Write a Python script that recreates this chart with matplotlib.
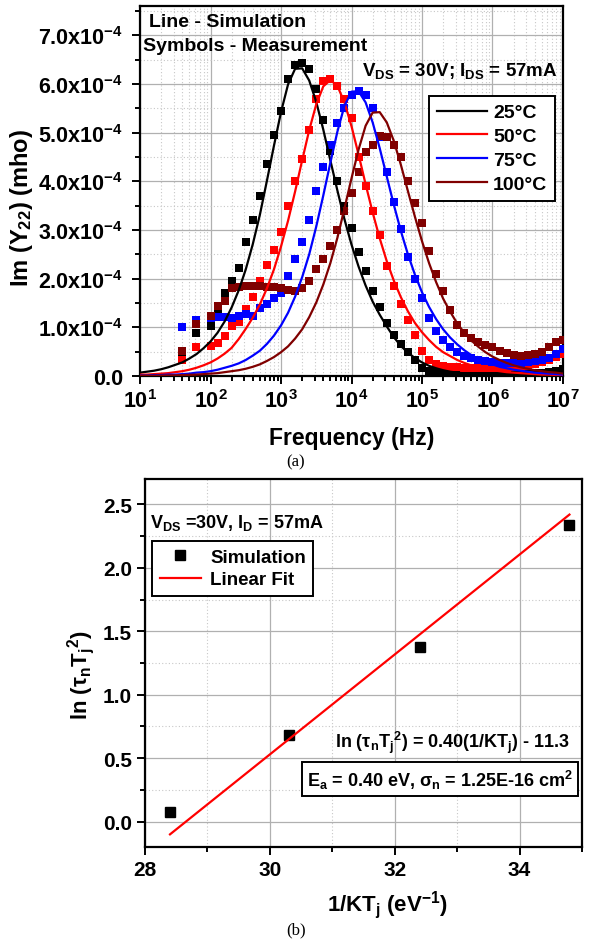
import matplotlib
matplotlib.use("Agg")
import matplotlib.pyplot as plt
import numpy as np
from matplotlib.ticker import MultipleLocator, LogLocator, NullFormatter, FormatStrFormatter

plt.rcParams["font.family"] = ["Liberation Sans", "DejaVu Sans"]
plt.rcParams["font.weight"] = "bold"
plt.rcParams["axes.labelweight"] = "bold"
plt.rcParams["mathtext.fontset"] = "custom"
plt.rcParams["mathtext.rm"] = "Liberation Sans:bold"
plt.rcParams["mathtext.it"] = "Liberation Sans:bold"
plt.rcParams["mathtext.bf"] = "Liberation Sans:bold"

# ── (a) Im(Y22) vs frequency, values in units of 1e-4 mho ──────────────────────
temps = ["25°C", "50°C", "75°C", "100°C"]
colors = ["#000000", "#ff0000", "#0000ff", "#800000"]

# log10(frequency) of the simulation curves
sim_logf = [1.0, 1.1, 1.2, 1.3, 1.4, 1.5, 1.6, 1.7, 1.8, 1.9,
            2.0, 2.1, 2.2, 2.3, 2.4, 2.5, 2.6, 2.7, 2.8, 2.9,
            3.0, 3.1, 3.2, 3.3, 3.4, 3.5, 3.6, 3.7, 3.8, 3.9,
            4.0, 4.1, 4.2, 4.3, 4.4, 4.5, 4.6, 4.7, 4.8, 4.9,
            5.0, 5.1, 5.2, 5.3, 5.4, 5.5, 5.6, 5.7, 5.8, 5.9,
            6.0, 6.1, 6.2, 6.3, 6.4, 6.5, 6.6, 6.7, 6.8, 6.9, 7.0]

sim_25 = [0.07, 0.09, 0.11, 0.14, 0.18, 0.23, 0.28, 0.36, 0.45, 0.57,
          0.71, 0.89, 1.12, 1.41, 1.76, 2.19, 2.71, 3.31, 4.01, 4.73,
          5.42, 5.99, 6.31, 6.32, 6.07, 5.63, 5.06, 4.43, 3.81, 3.22,
          2.70, 2.25, 1.86, 1.53, 1.26, 1.02, 0.80, 0.62, 0.48, 0.37,
          0.28, 0.21, 0.16, 0.12, 0.09, 0.07, 0.055, 0.045, 0.035, 0.03,
          0.025, 0.02, 0.02, 0.015, 0.015, 0.01, 0.01, 0.01, 0.01, 0.01, 0.01]
sim_50 = [0.03, 0.03, 0.04, 0.05, 0.06, 0.08, 0.10, 0.13, 0.17, 0.22,
          0.28, 0.36, 0.46, 0.58, 0.76, 0.97, 1.20, 1.47, 1.80, 2.19,
          2.66, 3.19, 3.79, 4.43, 5.05, 5.58, 5.95, 6.08, 5.96, 5.62,
          5.13, 4.55, 3.94, 3.36, 2.83, 2.36, 1.96, 1.62, 1.33, 1.09,
          0.90, 0.74, 0.60, 0.49, 0.41, 0.33, 0.27, 0.22, 0.18, 0.15,
          0.12, 0.10, 0.08, 0.07, 0.06, 0.05, 0.04, 0.03, 0.03, 0.02, 0.02]
sim_75 = [0.01, 0.01, 0.02, 0.02, 0.03, 0.03, 0.04, 0.05, 0.07, 0.08,
          0.10, 0.13, 0.17, 0.21, 0.26, 0.33, 0.42, 0.52, 0.66, 0.83,
          1.04, 1.30, 1.63, 2.03, 2.50, 3.07, 3.71, 4.38, 5.02, 5.55,
          5.84, 5.85, 5.62, 5.21, 4.68, 4.10, 3.52, 2.98, 2.50, 2.08,
          1.72, 1.42, 1.17, 0.96, 0.79, 0.65, 0.53, 0.43, 0.35, 0.29,
          0.24, 0.19, 0.16, 0.13, 0.11, 0.09, 0.07, 0.06, 0.05, 0.04, 0.03]
sim_100 = [0.005, 0.006, 0.008, 0.01, 0.012, 0.015, 0.02, 0.025, 0.03, 0.04,
           0.05, 0.06, 0.08, 0.10, 0.12, 0.15, 0.19, 0.24, 0.31, 0.39,
           0.49, 0.61, 0.77, 0.96, 1.21, 1.51, 1.88, 2.32, 2.84, 3.44,
           4.06, 4.65, 5.14, 5.41, 5.42, 5.21, 4.83, 4.34, 3.80, 3.27,
           2.77, 2.32, 1.93, 1.59, 1.32, 1.08, 0.89, 0.73, 0.60, 0.49,
           0.40, 0.33, 0.27, 0.22, 0.18, 0.15, 0.12, 0.10, 0.08, 0.07, 0.05]

# log10(frequency) of the measured points
meas_logf = [1.6, 1.8,
             2.0, 2.1, 2.2, 2.3, 2.4, 2.5, 2.6, 2.7, 2.8, 2.9,
             3.0, 3.1, 3.2, 3.3, 3.4, 3.5, 3.6, 3.7, 3.8, 3.9,
             4.0, 4.1, 4.2, 4.3, 4.4, 4.5, 4.6, 4.7, 4.8, 4.9,
             5.0, 5.1, 5.2, 5.3, 5.4, 5.5, 5.6, 5.7, 5.8, 5.9,
             6.0, 6.1, 6.2, 6.3, 6.4, 6.5, 6.6, 6.7, 6.8, 6.9, 7.0]

meas_25 = [0.40, 0.88,
           1.03, 1.35, 1.70, 1.95, 2.22, 2.75, 3.20, 3.70, 4.35, 4.95,
           5.45, 6.10, 6.38, 6.42, 6.30, 5.90, 5.25, 4.63, 4.00, 3.50,
           3.05, 2.55, 2.15, 1.75, 1.42, 1.08, 0.84, 0.66, 0.50, 0.33,
           0.16, 0.10, 0.08, 0.07, 0.06, 0.06, 0.05, 0.05, 0.05, 0.05,
           0.05, 0.05, 0.05, 0.05, 0.05, 0.05, 0.06, 0.07, 0.09, 0.11, 0.14]
meas_50 = [0.33, 0.60,
           0.62, 0.68, 0.82, 1.03, 1.10, 1.38, 1.62, 1.95, 2.28, 2.58,
           2.95, 3.50, 4.00, 4.45, 5.05, 5.70, 6.05, 6.10, 5.95, 5.70,
           5.30, 4.50, 3.90, 3.40, 2.90, 2.25, 1.85, 1.48, 1.15, 0.85,
           0.52, 0.32, 0.25, 0.21, 0.19, 0.18, 0.17, 0.16, 0.16, 0.16,
           0.16, 0.17, 0.17, 0.18, 0.19, 0.21, 0.24, 0.28, 0.33, 0.39, 0.45]
meas_75 = [1.00, 1.15,
           1.20, 1.22, 1.22, 1.20, 1.23, 1.28, 1.24, 1.40, 1.48, 1.60,
           1.70, 2.06, 2.40, 2.75, 3.20, 3.80, 4.30, 4.75, 5.20, 5.50,
           5.78, 5.86, 5.78, 5.50, 4.90, 4.20, 3.58, 3.02, 2.45, 2.00,
           1.60, 1.20, 0.92, 0.74, 0.60, 0.50, 0.42, 0.37, 0.32, 0.30,
           0.28, 0.27, 0.27, 0.27, 0.27, 0.28, 0.30, 0.33, 0.38, 0.45, 0.55]
meas_100 = [0.51, 1.07,
            1.23, 1.44, 1.55, 1.80, 1.83, 1.85, 1.85, 1.85, 1.83, 1.83,
            1.80, 1.77, 1.75, 1.80, 1.95, 2.20, 2.40, 2.67, 3.00, 3.40,
            3.75, 4.20, 4.60, 4.75, 4.94, 4.90, 4.75, 4.50, 4.00, 3.55,
            3.15, 2.57, 2.10, 1.75, 1.35, 1.05, 0.88, 0.78, 0.70, 0.64,
            0.60, 0.52, 0.48, 0.43, 0.42, 0.43, 0.46, 0.50, 0.60, 0.70, 0.75]

sim_all = [sim_25, sim_50, sim_75, sim_100]
meas_all = [meas_25, meas_50, meas_75, meas_100]

yticks_a = [0, 1, 2, 3, 4, 5, 6, 7]
xticks_a = [1e1, 1e2, 1e3, 1e4, 1e5, 1e6, 1e7]

# ── (b) Arrhenius plot ─────────────────────────────────────────────────────────
inv_kt = [28.4, 30.3, 32.4, 34.8]
ln_tau_t2 = [0.08, 0.68, 1.38, 2.34]
fit_x = [28.4, 34.8]
fit_y = [-0.10, 2.42]

fig = plt.figure(figsize=(5.92, 9.45), dpi=100)
ax1 = fig.add_axes([0.2365, 0.601, 0.7145, 0.3916])
ax2 = fig.add_axes([0.245, 0.1026, 0.738, 0.3894])


def style_axes(ax, labelsize):
    for sp in ax.spines.values():
        sp.set_linewidth(1.6)
    ax.tick_params(which="both", direction="out", top=False, right=False,
                   labelsize=labelsize, width=1.4)
    ax.tick_params(which="major", length=6)
    ax.tick_params(which="minor", length=3.5)
    ax.grid(which="major", color="#b0b0b0", linewidth=0.9, linestyle="-")
    ax.grid(which="minor", color="#c8c8c8", linewidth=0.8, linestyle=(0, (1, 2)))
    ax.set_axisbelow(True)


# ---- panel (a)
style_axes(ax1, 15.5)
ax1.tick_params(axis="y", which="major", pad=6)
for vals, c in zip(meas_all, colors):
    ax1.plot(10 ** np.array(meas_logf), vals, "s", color=c, markersize=5.5,
             markeredgewidth=0, zorder=3)
for vals, c, t in zip(sim_all, colors, temps):
    ax1.plot(10 ** np.array(sim_logf), vals, "-", color=c, linewidth=1.6,
             label=t, zorder=4)

ax1.set_xscale("log")
ax1.set_xlim(1e1, 1e7)
ax1.set_ylim(0, 7.6)
ax1.set_xticks(xticks_a)
ax1.set_xticklabels([r"$\mathrm{10^{%d}}$" % int(np.log10(v)) for v in xticks_a])
ax1.xaxis.set_minor_locator(LogLocator(base=10, subs=np.arange(2, 10), numticks=20))
ax1.xaxis.set_minor_formatter(NullFormatter())
ax1.set_yticks(yticks_a)
ax1.set_yticklabels(["0.0"] + [r"%.1fx10$^{-4}$" % v for v in yticks_a[1:]])
ax1.yaxis.set_minor_locator(MultipleLocator(0.5))

ax1.set_xlabel("Frequency (Hz)", fontsize=16.5)
ax1.set_ylabel(r"Im (Y$_{22}$) (mho)", fontsize=17)
ax1.xaxis.set_label_coords(0.5, -0.135)
ax1.yaxis.set_label_coords(-0.248, 0.457)

ax1.text(0.021, 0.959, "Line - Simulation", transform=ax1.transAxes,
         fontsize=14, va="center", ha="left")
ax1.text(0.008, 0.892, "Symbols - Measurement", transform=ax1.transAxes,
         fontsize=14, va="center", ha="left")
ax1.text(0.525, 0.826, r"V$_{DS}$ = 30V; I$_{DS}$ = 57mA", transform=ax1.transAxes,
         fontsize=13.5, va="center", ha="left")

leg1 = ax1.legend(loc="upper right", bbox_to_anchor=(0.981, 0.757), fontsize=14,
                  frameon=True, fancybox=False, edgecolor="black", framealpha=1,
                  handlelength=2.6, handletextpad=0.3, labelspacing=0.32,
                  borderpad=0.4, borderaxespad=0)
leg1.get_frame().set_linewidth(1.4)

fig.text(0.5, 0.511, "(a)", ha="center", va="center", fontsize=12,
         family="Liberation Serif", weight="normal")

# ---- panel (b)
style_axes(ax2, 15)
ax2.plot(inv_kt, ln_tau_t2, "s", color="black", markersize=7, linestyle="none",
         label="Simulation", zorder=3)
ax2.plot(fit_x, fit_y, "-", color="#ff0000", linewidth=1.6, label="Linear Fit", zorder=4)

ax2.set_xlim(28, 35)
ax2.set_ylim(-0.2, 2.7)
ax2.xaxis.set_major_locator(MultipleLocator(2))
ax2.xaxis.set_minor_locator(MultipleLocator(1))
ax2.yaxis.set_major_locator(MultipleLocator(0.5))
ax2.yaxis.set_minor_locator(MultipleLocator(0.25))
ax2.yaxis.set_major_formatter(FormatStrFormatter("%.1f"))

ax2.set_xlabel(r"1/KT$_j$ (eV$^{-1}$)", fontsize=16)
ax2.set_ylabel(r"ln ($\tau_n$T$_j$$^2$)", fontsize=16)
ax2.xaxis.set_label_coords(0.554, -0.112)
ax2.yaxis.set_label_coords(-0.11, 0.47)

ax2.text(0.011, 0.883, r"V$_{DS}$ =30V, I$_D$ = 57mA", transform=ax2.transAxes,
         fontsize=13, va="center", ha="left")
ax2.text(0.705, 0.285, r"ln ($\tau_n$T$_j$$^2$) = 0.40(1/KT$_j$) - 11.3",
         transform=ax2.transAxes, fontsize=13, va="center", ha="center")
ax2.text(0.675, 0.185, r"E$_a$ = 0.40 eV, $\sigma_n$ = 1.25E-16 cm$^2$",
         transform=ax2.transAxes, fontsize=13, va="center", ha="center",
         bbox=dict(boxstyle="square,pad=0.3", facecolor="white",
                   edgecolor="black", linewidth=1.4))

leg2 = ax2.legend(loc="upper left", bbox_to_anchor=(0.016, 0.832), fontsize=13.5,
                  frameon=True, fancybox=False, edgecolor="black", framealpha=1,
                  handlelength=2.2, handletextpad=0.5, labelspacing=0.3,
                  borderpad=0.4, borderaxespad=0)
leg2.get_frame().set_linewidth(1.4)

fig.text(0.5, 0.015, "(b)", ha="center", va="center", fontsize=12,
         family="Liberation Serif", weight="normal")

fig.savefig("out.png", dpi=100, facecolor="white")
